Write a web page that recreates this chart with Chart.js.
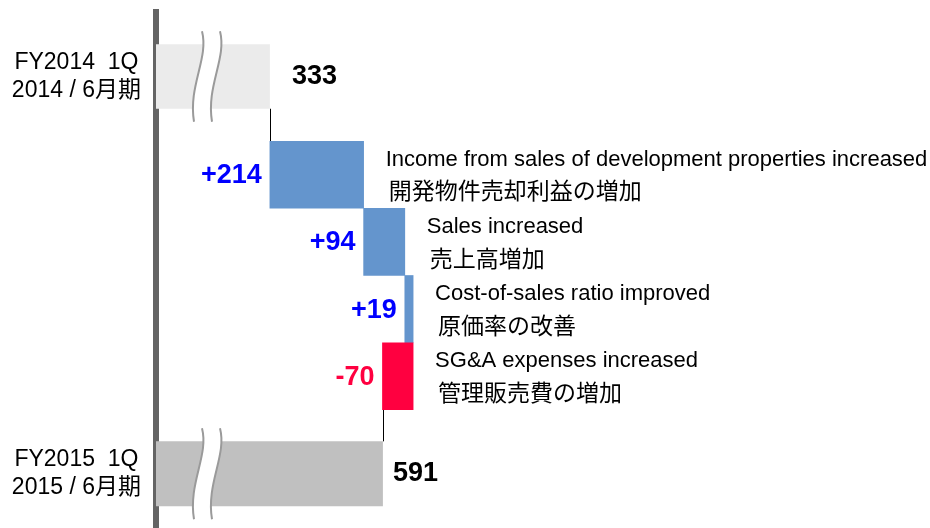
<!DOCTYPE html>
<html lang="ja">
<head>
<meta charset="utf-8">
<title>Operating income change FY2014 1Q - FY2015 1Q</title>
<script src="https://cdn.jsdelivr.net/npm/chart.js@4.4.0/dist/chart.umd.min.js"></script>
<style>
  html, body { margin: 0; padding: 0; background: #fff; }
  canvas { display: block; }
</style>
</head>
<body>
<canvas id="chart" width="930" height="528"></canvas>
<script>
// values
const startLabel = [['FY2014  1Q', '2014 / 6月期']];
const endLabel = [['FY2015  1Q', '2015 / 6月期']];
const startValue = 333;
const endValue = 591;
const changeValues = [214, 94, 19, -70];
const changeText = ['+214', '+94', '+19', '-70'];
const notesEn = [
  'Income from sales of development properties increased',
  'Sales increased',
  'Cost-of-sales ratio improved',
  'SG&A expenses increased'
];
const notesJa = ['開発物件売却利益の増加', '売上高増加', '原価率の改善', '管理販売費の増加'];
const axisMin = 73;   // broken axis, does not start at 0
const axisMax = 1840;

const BLUE = '#6495cd';
const RED = '#ff0040';
const LATIN = '"Liberation Sans", Arial, "Noto Sans CJK JP", sans-serif';
const JP = '"Noto Sans CJK JP", "Liberation Sans", sans-serif';

// floating bars for the steps
let run = startValue;
const stepBars = changeValues.map(v => {
  const bar = [run, run + v];
  run += v;
  return bar;
});

function drawBreak(ctx, x0, y0, h) {
  const gap = 18;
  const curve = (dx) => {
    ctx.moveTo(x0 + dx, y0);
    ctx.bezierCurveTo(x0 + dx + 7, y0 + h * 0.3, x0 + dx - 14, y0 + h * 0.6, x0 + dx - 8, y0 + h);
  };
  ctx.save();
  ctx.beginPath();
  ctx.moveTo(x0, y0);
  ctx.bezierCurveTo(x0 + 7, y0 + h * 0.3, x0 - 14, y0 + h * 0.6, x0 - 8, y0 + h);
  ctx.lineTo(x0 + gap - 8, y0 + h);
  ctx.bezierCurveTo(x0 + gap - 14, y0 + h * 0.6, x0 + gap + 7, y0 + h * 0.3, x0 + gap, y0);
  ctx.closePath();
  ctx.fillStyle = '#fff';
  ctx.fill();
  ctx.beginPath();
  curve(0);
  curve(gap);
  ctx.strokeStyle = '#9a9a9a';
  ctx.lineWidth = 2;
  ctx.stroke();
  ctx.restore();
}

const waterfallText = {
  id: 'waterfallText',
  afterDatasetsDraw(chart) {
    const ctx = chart.ctx;
    const area = chart.chartArea;
    const first = chart.getDatasetMeta(0).data[0];
    const steps = chart.getDatasetMeta(1).data;
    const last = chart.getDatasetMeta(2).data[0];

    ctx.save();
    // connectors
    ctx.strokeStyle = '#000';
    ctx.lineWidth = 1;
    ctx.beginPath();
    let cx = Math.round(first.x) + 0.5;
    ctx.moveTo(cx, first.y + first.height / 2);
    ctx.lineTo(cx, steps[0].y - steps[0].height / 2);
    cx = Math.round(last.x) + 0.5;
    ctx.moveTo(cx, steps[3].y + steps[3].height / 2);
    ctx.lineTo(cx, last.y - last.height / 2);
    ctx.stroke();

    // axis break marks
    [first, last].forEach(el => {
      const t = el.y - el.height / 2;
      const h = el.height + 26;
      drawBreak(ctx, area.left + 46, t - 13, h);
    });

    // totals
    ctx.textBaseline = 'middle';
    ctx.textAlign = 'left';
    ctx.fillStyle = '#000';
    ctx.font = 'bold 27px ' + LATIN;
    ctx.fillText(String(startValue), first.x + 22, first.y);
    ctx.fillText(String(endValue), last.x + 10, last.y);

    // step values and notes
    steps.forEach((el, i) => {
      const left = Math.min(el.x, el.base);
      const right = Math.max(el.x, el.base);
      ctx.textAlign = 'right';
      ctx.font = 'bold 27px ' + LATIN;
      ctx.fillStyle = changeValues[i] < 0 ? RED : '#0000ff';
      ctx.fillText(changeText[i], left - 8, el.y + 1);

      ctx.textAlign = 'left';
      ctx.fillStyle = '#000';
      ctx.font = '22px ' + LATIN;
      ctx.fillText(notesEn[i], right + 22, el.y - 15);
      ctx.font = '23px ' + JP;
      ctx.fillText(notesJa[i], right + 25, el.y + 16);
    });
    ctx.restore();
  }
};

const tickStyle = (showTicks) => ({
  display: showTicks,
  crossAlign: 'center',
  padding: 15,
  color: '#000',
  font: { family: LATIN, size: 23, lineHeight: 1.22 }
});

const rowAxis = (weight, order) => ({
  position: 'left',
  stack: 'rows',
  stackWeight: weight,
  weight: order,
  grid: { display: false, drawTicks: false },
  border: { display: true, color: '#646464', width: 6 },
  afterFit: (scale) => {
    scale.width = 156;
    // labels sit inside their rows, no extra room above/below
    scale.paddingTop = 0;
    scale.paddingBottom = 0;
  }
});

new Chart(document.getElementById('chart'), {
  type: 'bar',
  data: {
    datasets: [
      { data: [startValue], yAxisID: 'yTop', backgroundColor: '#ebebeb',
        grouped: false, barPercentage: 0.5, categoryPercentage: 1, clip: 0 },
      { data: stepBars, yAxisID: 'yMid',
        backgroundColor: changeValues.map(v => v < 0 ? RED : BLUE),
        grouped: false, barPercentage: 1, categoryPercentage: 1, clip: 0 },
      { data: [{ x: endValue, y: 0 }], yAxisID: 'yBot', backgroundColor: '#c0c0c0',
        grouped: false, barPercentage: 0.55, categoryPercentage: 1, clip: 0 }
    ]
  },
  options: {
    indexAxis: 'y',
    responsive: false,
    animation: false,
    layout: { padding: { top: 12, bottom: 0, left: 0, right: 0 } },
    plugins: { legend: { display: false }, tooltip: { enabled: false } },
    scales: {
      x: { type: 'linear', min: axisMin, max: axisMax, display: false },
      yTop: Object.assign(rowAxis(129, 3), {
        type: 'category', labels: startLabel, offset: true, ticks: tickStyle(true)
      }),
      yMid: Object.assign(rowAxis(269, 2), {
        type: 'category', labels: changeText, offset: true, ticks: tickStyle(false)
      }),
      // last row: the slide is cut off below it, so its row runs past the bottom edge
      yBot: Object.assign(rowAxis(118, 1), {
        type: 'linear', min: -0.36, max: 0.5,
        afterBuildTicks: (scale) => { scale.ticks = [{ value: 0 }]; },
        ticks: Object.assign(tickStyle(true), { callback: () => endLabel[0] })
      })
    }
  },
  plugins: [waterfallText]
});
</script>
</body>
</html>
